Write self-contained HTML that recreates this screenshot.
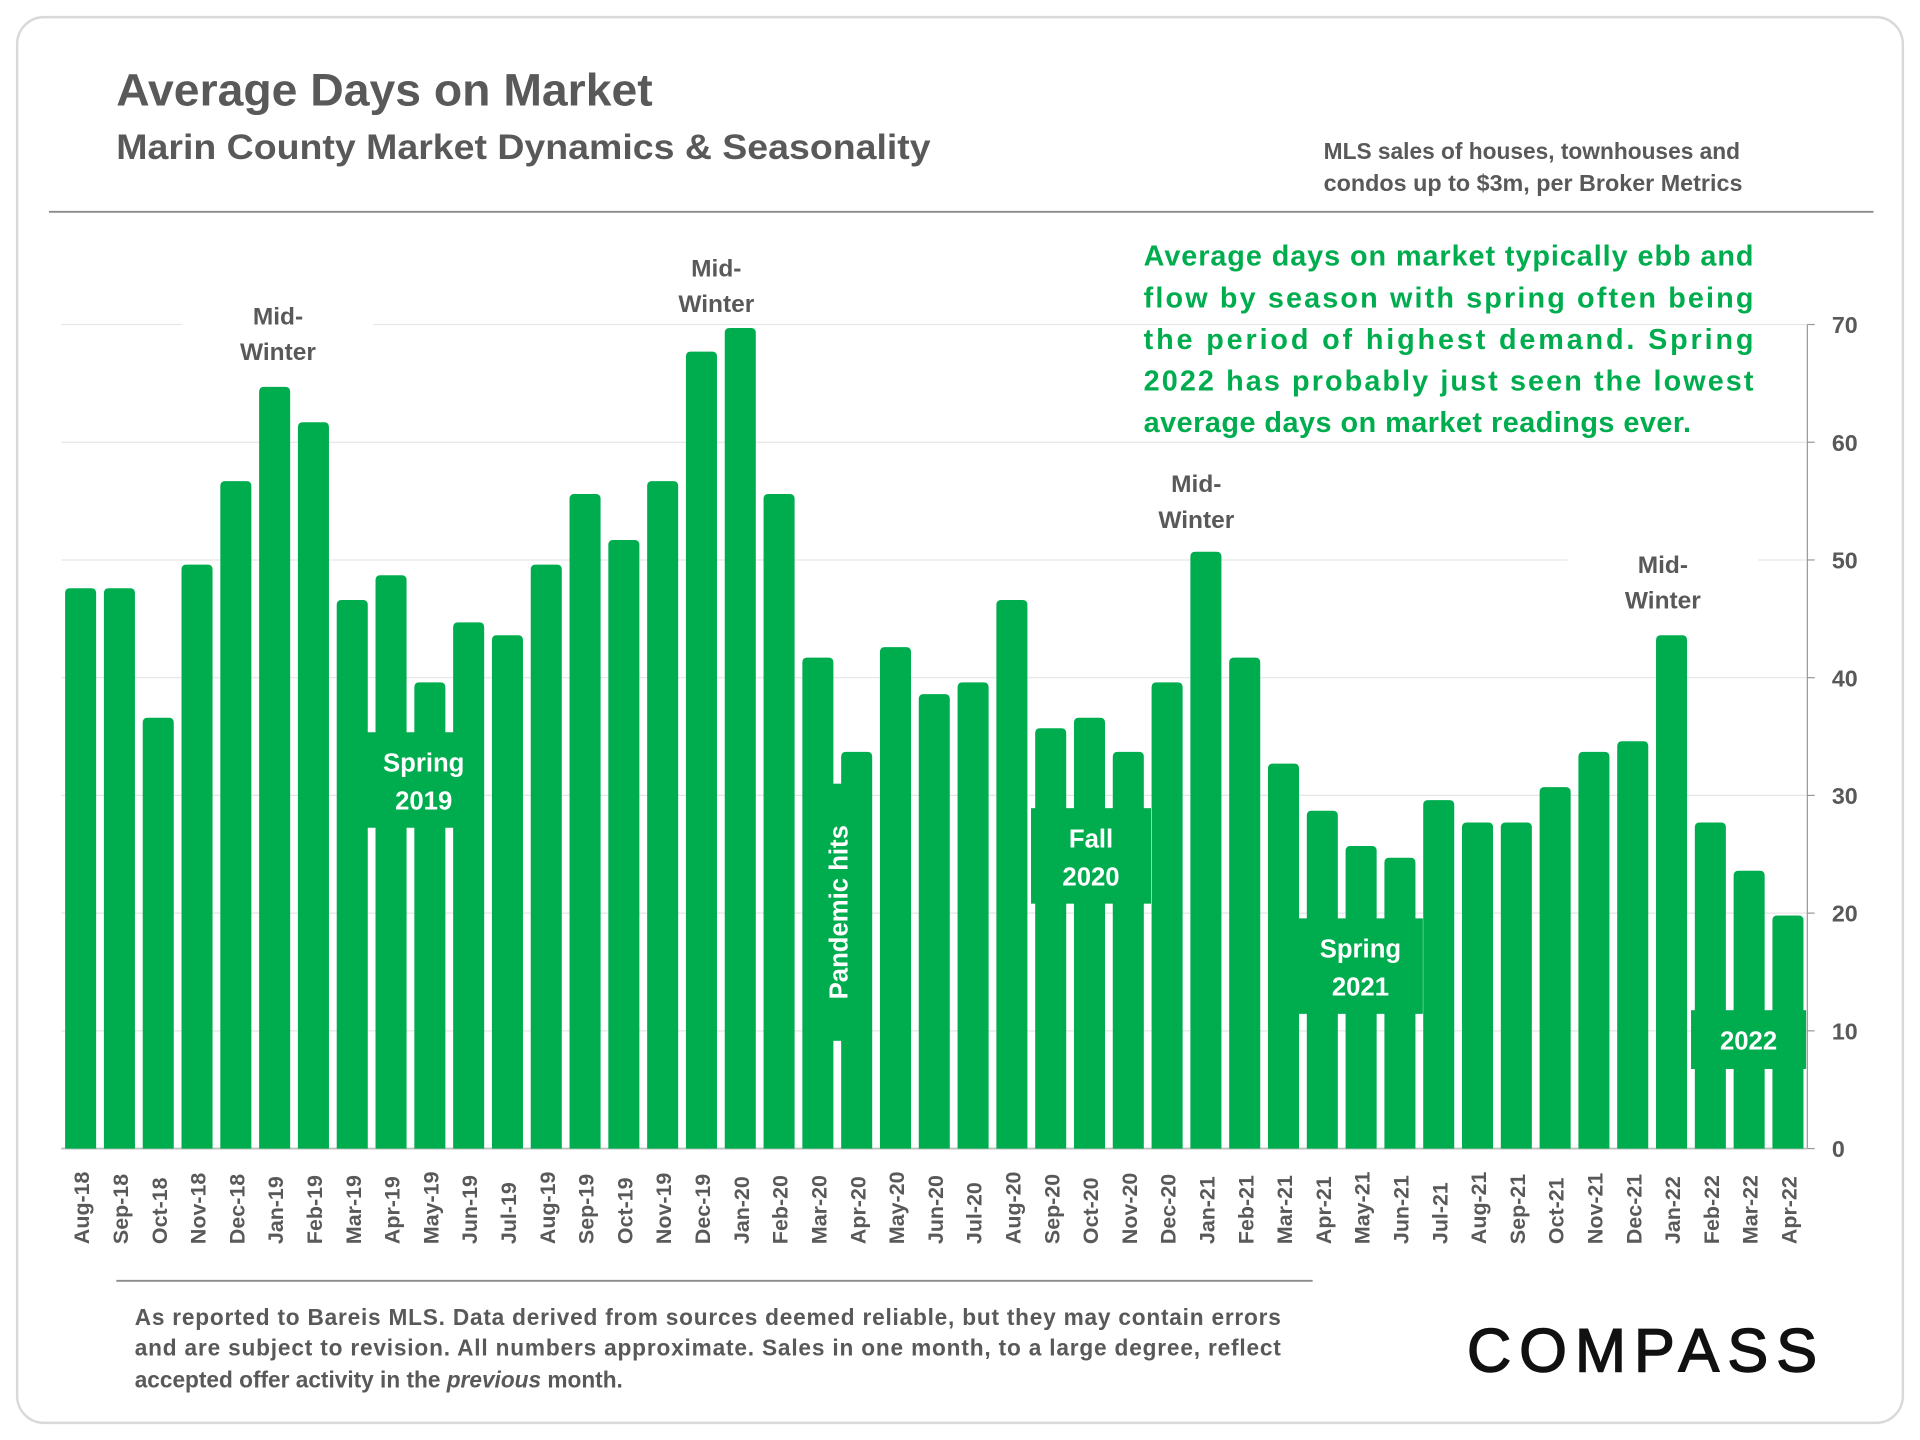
<!DOCTYPE html>
<html><head><meta charset="utf-8"><style>
html,body{margin:0;padding:0;background:#fff}
svg{display:block}
text{font-family:"Liberation Sans",sans-serif}
</style></head><body>
<svg id="chart" width="1920" height="1440" viewBox="0 0 1568 1176" xmlns="http://www.w3.org/2000/svg">
<rect x="14" y="14" width="1540" height="1148" rx="22" fill="#fff" stroke="#d9d9d9" stroke-width="2"/>
<text x="95" y="86" font-size="37" font-weight="bold" fill="#595959" textLength="438" lengthAdjust="spacingAndGlyphs">Average Days on Market</text>
<text x="95" y="130" font-size="29" font-weight="bold" fill="#595959" textLength="665" lengthAdjust="spacingAndGlyphs">Marin County Market Dynamics &amp; Seasonality</text>
<text font-size="18.5" font-weight="bold" fill="#595959"><tspan x="1081" y="130" textLength="340" lengthAdjust="spacingAndGlyphs">MLS sales of houses, townhouses and</tspan><tspan x="1081" y="156" textLength="342" lengthAdjust="spacingAndGlyphs">condos up to $3m, per Broker Metrics</tspan></text>
<line x1="40" y1="173" x2="1530" y2="173" stroke="#8c8c8c" stroke-width="1.5"/>
<g id="grid"></g>
<g id="bars"></g>
<g id="xlabels"></g>
<g id="ylabels"></g>
<g id="annotations"></g>
<text font-size="23.5" font-weight="bold" fill="#00ad4e">
<tspan x="934" y="217" textLength="498" lengthAdjust="spacing">Average days on market typically ebb and</tspan>
<tspan x="934" y="251" textLength="498" lengthAdjust="spacing">flow by season with spring often being</tspan>
<tspan x="934" y="285" textLength="498" lengthAdjust="spacing">the period of highest demand. Spring</tspan>
<tspan x="934" y="319" textLength="498" lengthAdjust="spacing">2022 has probably just seen the lowest</tspan>
<tspan x="934" y="353" textLength="447" lengthAdjust="spacing">average days on market readings ever.</tspan>
</text>
<line x1="95" y1="1046" x2="1072" y2="1046" stroke="#8c8c8c" stroke-width="1.5"/>
<text font-size="18.5" font-weight="bold" fill="#595959">
<tspan x="110" y="1082" textLength="936" lengthAdjust="spacing">As reported to Bareis MLS. Data derived from sources deemed reliable, but they may contain errors</tspan>
<tspan x="110" y="1107" textLength="936" lengthAdjust="spacing">and are subject to revision. All numbers approximate. Sales in one month, to a large degree, reflect</tspan>
<tspan x="110" y="1133">accepted offer activity in the <tspan font-style="italic">previous</tspan> month.</tspan>
</text>
<text x="1198" y="1120" font-size="50" fill="#111" stroke="#111" stroke-width="1.2" textLength="286" lengthAdjust="spacing">COMPASS</text>
</svg>
<script>
const categories=["Aug-18","Sep-18","Oct-18","Nov-18","Dec-18","Jan-19","Feb-19","Mar-19","Apr-19","May-19","Jun-19","Jul-19","Aug-19","Sep-19","Oct-19","Nov-19","Dec-19","Jan-20","Feb-20","Mar-20","Apr-20","May-20","Jun-20","Jul-20","Aug-20","Sep-20","Oct-20","Nov-20","Dec-20","Jan-21","Feb-21","Mar-21","Apr-21","May-21","Jun-21","Jul-21","Aug-21","Sep-21","Oct-21","Nov-21","Dec-21","Jan-22","Feb-22","Mar-22","Apr-22"];
const daysOnMarket=[47.6,47.6,36.6,49.6,56.7,64.7,61.7,46.6,48.7,39.6,44.7,43.6,49.6,55.6,51.7,56.7,67.7,69.7,55.6,41.7,33.7,42.6,38.6,39.6,46.6,35.7,36.6,33.7,39.6,50.7,41.7,32.7,28.7,25.7,24.7,29.6,27.7,27.7,30.7,33.7,34.6,43.6,27.7,23.6,19.8];
const yTicks=[0,10,20,30,40,50,60,70];
const NS="http://www.w3.org/2000/svg";
const X0=50,X1=1476,Y0=938,PER=9.614;
const slot=(X1-X0)/categories.length;
const yS=v=>Y0-v*PER;
const xS=i=>X0+slot*i+slot/2;
function mk(tag,attrs,parent){const e=document.createElementNS(NS,tag);for(const k in attrs)e.setAttribute(k,attrs[k]);parent.appendChild(e);return e;}
const grid=document.getElementById('grid'),bars=document.getElementById('bars'),xl=document.getElementById('xlabels'),yl=document.getElementById('ylabels'),ann=document.getElementById('annotations');
yTicks.forEach(t=>{
  if(t>0){const g=mk('line',{x1:X0,x2:X1,y1:yS(t),y2:yS(t),stroke:'#e6e6e6','stroke-width':1},grid);
  
  }
  const tk=mk('line',{x1:X1,x2:X1+6,y1:yS(t),y2:yS(t),stroke:'#999'},grid);
  
  
  const l=mk('text',{x:1496,y:yS(t)+7,'font-size':19,'font-weight':'bold',fill:'#595959'},yl);
  l.textContent=t;
  
  
});
const ax=mk('line',{x1:X1,x2:X1,y1:yS(0),y2:yS(70),stroke:'#999'},grid);


const bw=slot*0.8;
categories.forEach((c,i)=>{
  const v=daysOnMarket[i],x=xS(i)-bw/2,y=yS(v),r=4;
  const p=mk('path',{d:`M${x},${Y0}V${y+r}Q${x},${y} ${x+r},${y}H${x+bw-r}Q${x+bw},${y} ${x+bw},${y+r}V${Y0}Z`,fill:'#00ad4e'},bars);
  
  
  const t=mk('text',{transform:`translate(${xS(i)+7},1016) rotate(-90)`,'font-size':17.5,'font-weight':'bold',fill:'#595959'},xl);
  t.textContent=c;
  
  
});
const bx=mk('line',{x1:X0,x2:X1,y1:Y0,y2:Y0,stroke:'#bfbfbf','stroke-width':1.5},grid);


[[227,258],[585,219],[977,395],[1358,461]].forEach((a,k)=>{
  const bg=mk('rect',{x:a[0]-78,y:a[1]-22,width:156,height:62,fill:'#fff'},ann);
  
  
  const t=mk('text',{x:a[0],y:a[1]+7,'text-anchor':'middle','font-size':20,'font-weight':'bold',fill:'#595959'},ann);
  t.innerHTML=`<tspan x="${a[0]}">Mid-</tspan><tspan x="${a[0]}" dy="29">Winter</tspan>`;
  
  
});
[[300,598,92,78,['Spring','2019']],[842,660,98,78,['Fall','2020']],[1060,750,102,78,['Spring','2021']],[1381,825,94,48,['2022']]].forEach((a,k)=>{
  const bg=mk('rect',{x:a[0],y:a[1],width:a[2],height:a[3],fill:'#00ad4e'},ann);
  
  
  const cx=a[0]+a[2]/2;
  const t=mk('text',{x:cx,y:a[1]+32,'text-anchor':'middle','font-size':21,'font-weight':'bold',fill:'#fff'},ann);
  t.innerHTML=a[4].map((s,j)=>`<tspan x="${cx}" dy="${j?31:0}">${s}</tspan>`).join('');
  
  
});
const pbg=mk('rect',{x:668,y:640,width:34,height:210,fill:'#00ad4e'},ann);


const pt=mk('text',{transform:'translate(692,745) rotate(-90)','text-anchor':'middle','font-size':21,'font-weight':'bold',fill:'#fff'},ann);
pt.textContent='Pandemic hits';


</script>
</body></html>
